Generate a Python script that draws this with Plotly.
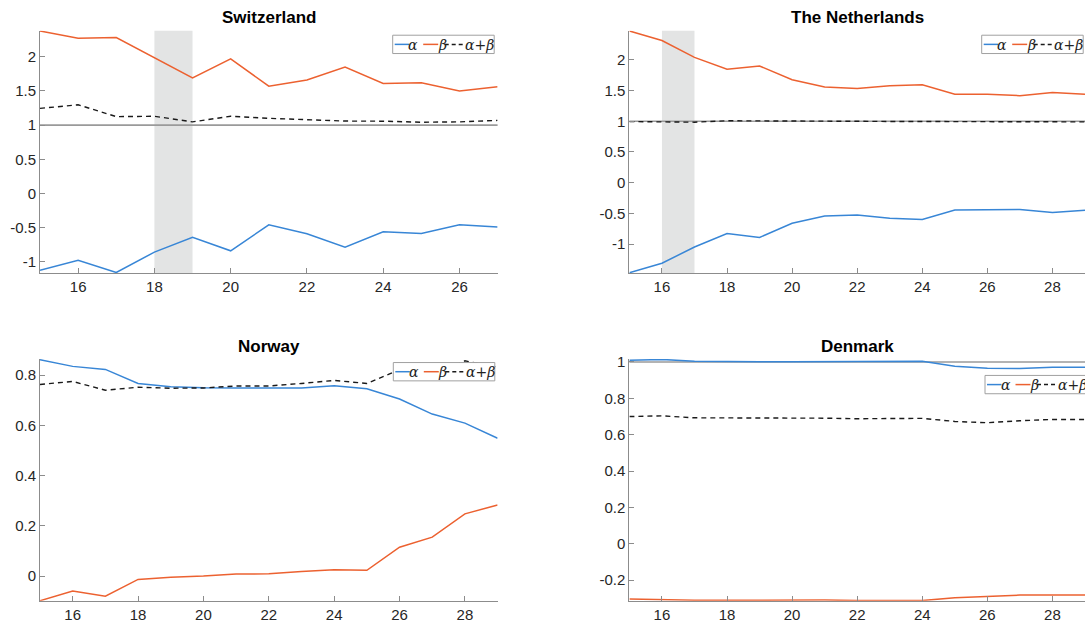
import plotly.graph_objects as go

# ---------------- data ----------------
years_ch = [15, 16, 17, 18, 19, 20, 21, 22, 23, 24, 25, 26, 27]
alpha_ch = [-1.12, -0.976, -1.154, -0.856, -0.64, -0.837, -0.457, -0.587, -0.784, -0.558, -0.582, -0.457, -0.49]
beta_ch = [2.377, 2.27, 2.28, 1.99, 1.69, 1.97, 1.57, 1.66, 1.85, 1.61, 1.62, 1.50, 1.56]
sum_ch = [1.245, 1.298, 1.125, 1.13, 1.048, 1.13, 1.10, 1.08, 1.06, 1.058, 1.043, 1.048, 1.07]

years_nl = [15, 16, 17, 18, 19, 20, 21, 22, 23, 24, 25, 26, 27, 28, 29]
alpha_nl = [-1.465, -1.31, -1.047, -0.827, -0.891, -0.66, -0.542, -0.526, -0.58, -0.60, -0.446, -0.446, -0.435, -0.483, -0.45]
beta_nl = [2.47, 2.314, 2.04, 1.846, 1.90, 1.675, 1.557, 1.535, 1.578, 1.594, 1.439, 1.439, 1.417, 1.47, 1.44]
sum_nl = [0.995, 0.992, 0.985, 1.008, 1.003, 1.0, 1.0, 1.0, 0.997, 0.995, 0.99, 0.99, 0.99, 0.99, 0.99]

years_no = [15, 16, 17, 18, 19, 20, 21, 22, 23, 24, 25, 26, 27, 28, 29]
alpha_no = [0.861, 0.835, 0.823, 0.767, 0.754, 0.750, 0.749, 0.749, 0.749, 0.758, 0.746, 0.705, 0.645, 0.609, 0.549]
beta_no = [-0.098, -0.059, -0.080, -0.013, -0.004, 0.0, 0.008, 0.009, 0.018, 0.025, 0.023, 0.115, 0.155, 0.248, 0.283]
sum_no = [0.763, 0.775, 0.740, 0.752, 0.748, 0.749, 0.757, 0.757, 0.767, 0.779, 0.767, 0.822, 0.80, 0.857, 0.832]

years_dk = [15, 16, 17, 18, 19, 20, 21, 22, 23, 24, 25, 26, 27, 28, 29]
alpha_dk = [1.009, 1.014, 1.004, 1.005, 1.002, 1.002, 1.002, 1.002, 1.002, 1.004, 0.977, 0.966, 0.964, 0.971, 0.971]
beta_dk = [-0.303, -0.307, -0.310, -0.310, -0.309, -0.309, -0.309, -0.312, -0.312, -0.312, -0.296, -0.290, -0.282, -0.282, -0.282]
sum_dk = [0.700, 0.704, 0.693, 0.693, 0.691, 0.691, 0.691, 0.688, 0.688, 0.690, 0.673, 0.666, 0.677, 0.684, 0.684]

titles = ["Switzerland", "The Netherlands", "Norway", "Denmark"]
shade_ch = [18, 19]
shade_nl = [16, 17]

xticks_ch = [16, 18, 20, 22, 24, 26]
xticks_other = [16, 18, 20, 22, 24, 26, 28]
yticks_big = [-1, -0.5, 0, 0.5, 1, 1.5, 2]
yticklabels_big = ["-1", "-0.5", "0", "0.5", "1", "1.5", "2"]
yticks_no = [0, 0.2, 0.4, 0.6, 0.8]
yticklabels_no = ["0", "0.2", "0.4", "0.6", "0.8"]
yticks_dk = [-0.2, 0, 0.2, 0.4, 0.6, 0.8, 1]
yticklabels_dk = ["-0.2", "0", "0.2", "0.4", "0.6", "0.8", "1"]

legend_labels = ["<i>α</i>", "<i>β</i>", "<i>α</i>+<i>β</i>"]

# ---------------- styling / layout ----------------
W, H = 1085, 626
BLUE = "#3886d6"
ORANGE = "#ec6130"
AXC = "#8c8c8c"
TXT = "#262626"


def fx(p):
    return p / W


def fy(p):
    return 1 - p / H


left_dom = [fx(40.0), fx(497.6)]
right_dom = [fx(629.4), 1.0]
top_dom = [fy(269.5), fy(25.0)]
bot_dom = [fy(600.5), fy(356.5)]

fig = go.Figure()

panels = [
    dict(x=years_ch, a=alpha_ch, b=beta_ch, s=sum_ch, xd=left_dom, yd=top_dom,
         xr=[15, 27], yr=[-1.16, 2.38], xt=xticks_ch, yt=yticks_big, ytl=yticklabels_big),
    dict(x=years_nl, a=alpha_nl, b=beta_nl, s=sum_nl, xd=right_dom, yd=top_dom,
         xr=[15, 29], yr=[-1.468, 2.473], xt=xticks_other, yt=yticks_big, ytl=yticklabels_big),
    dict(x=years_no, a=alpha_no, b=beta_no, s=sum_no, xd=left_dom, yd=bot_dom,
         xr=[15, 29], yr=[-0.098, 0.864], xt=xticks_other, yt=yticks_no, ytl=yticklabels_no),
    dict(x=years_dk, a=alpha_dk, b=beta_dk, s=sum_dk, xd=right_dom, yd=bot_dom,
         xr=[15, 29], yr=[-0.313, 1.016], xt=xticks_other, yt=yticks_dk, ytl=yticklabels_dk),
]

layout_axes = {}
shapes = []
annotations = []

for i, p in enumerate(panels, start=1):
    sx = "" if i == 1 else str(i)
    xa, ya = "x" + sx, "y" + sx
    fig.add_trace(go.Scatter(x=p["x"], y=p["a"], mode="lines", xaxis=xa, yaxis=ya,
                             line=dict(color=BLUE, width=1.5), showlegend=False))
    fig.add_trace(go.Scatter(x=p["x"], y=p["b"], mode="lines", xaxis=xa, yaxis=ya,
                             line=dict(color=ORANGE, width=1.5), showlegend=False))
    fig.add_trace(go.Scatter(x=p["x"], y=p["s"], mode="lines", xaxis=xa, yaxis=ya,
                             line=dict(color="#1a1a1a", width=1.4, dash="5px,4px"), showlegend=False))
    common = dict(showline=True, linecolor=AXC, linewidth=1, ticks="inside", ticklen=5,
                  tickcolor=AXC, showgrid=False, zeroline=False, mirror=False,
                  tickfont=dict(family="Liberation Sans, Arial", size=15, color=TXT))
    layout_axes["xaxis" + sx] = dict(domain=p["xd"], range=p["xr"], anchor=ya,
                                     tickvals=p["xt"], ticktext=[str(v) for v in p["xt"]], **common)
    layout_axes["yaxis" + sx] = dict(domain=p["yd"], range=p["yr"], anchor=xa,
                                     tickvals=p["yt"], ticktext=p["ytl"], **common)
    if p["yr"][0] < 1 < p["yr"][1]:
        shapes.append(dict(type="line", xref=xa + " domain", yref=ya, x0=0, x1=1, y0=1, y1=1,
                           line=dict(color="#9a9a9a", width=1.6), layer="below"))
    annotations.append(dict(text="<b>" + titles[i - 1] + "</b>", xref="paper", yref="paper",
                            x=(p["xd"][0] + p["xd"][1]) / 2,
                            y=p["yd"][1] + 13.0 / H, yanchor="middle", xanchor="center",
                            showarrow=False, font=dict(family="Liberation Sans, Arial", size=17, color="#000")))

shade_shapes = [
    dict(type="rect", xref="x", yref="y domain", x0=shade_ch[0], x1=shade_ch[1], y0=0, y1=1,
         fillcolor="#e3e4e4", line=dict(width=0), layer="below"),
    dict(type="rect", xref="x2", yref="y2 domain", x0=shade_nl[0], x1=shade_nl[1], y0=0, y1=1,
         fillcolor="#e3e4e4", line=dict(width=0), layer="below"),
]
shapes = shade_shapes + shapes


def add_legend(L, T):
    h = 18.5
    w = 101.5
    yc = T + h / 2
    shapes.append(dict(type="rect", xref="paper", yref="paper", x0=fx(L), x1=fx(L + w),
                       y0=fy(T + h), y1=fy(T), fillcolor="white",
                       line=dict(color="#a0a0a0", width=1), layer="above"))
    items = [(BLUE, "solid", 2.0, 16.5, 20.5), (ORANGE, "solid", 30.5, 45.5, 49.5),
             ("#1a1a1a", "4px,3px", 52.0, 72.0, 87.0)]
    for (col, dash, a0, a1, tx), lab in zip(items, legend_labels):
        shapes.append(dict(type="line", xref="paper", yref="paper", x0=fx(L + a0), x1=fx(L + a1),
                           y0=fy(yc), y1=fy(yc), line=dict(color=col, width=1.5, dash=dash),
                           layer="above"))
        annotations.append(dict(text=lab, xref="paper", yref="paper", x=fx(L + tx), y=fy(yc + 0.5),
                                xanchor="center", yanchor="middle", showarrow=False,
                                font=dict(family="DejaVu Serif", size=14, color="#222")))


add_legend(392.7, 29.5)
add_legend(981.7, 29.5)
add_legend(393.3, 360.0)
add_legend(985.0, 373.0)

fig.update_layout(width=W, height=H, margin=dict(l=0, r=0, t=0, b=0),
                  paper_bgcolor="white", plot_bgcolor="white",
                  shapes=shapes, annotations=annotations, showlegend=False, **layout_axes)

# remove the default page margin so the 1085x626 figure fills the window exactly
fig.write_html("out.html", config={"displayModeBar": False},
               post_script="document.body.style.margin='0';document.body.style.overflow='hidden';")
